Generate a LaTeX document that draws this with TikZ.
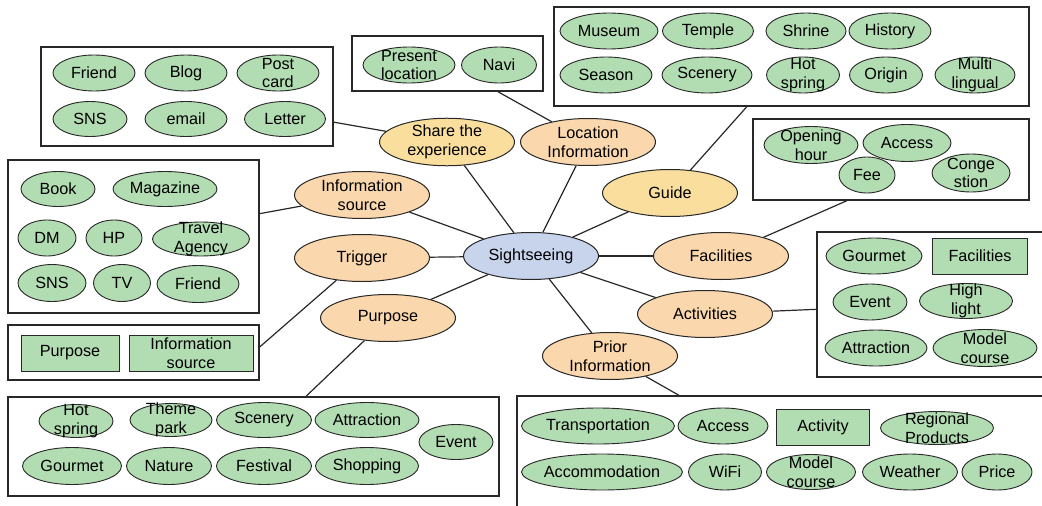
\documentclass[tikz,border=0pt]{standalone}
\usepackage{fontspec}
\setmainfont{Liberation Sans}
\usepackage{tikz}
\usetikzlibrary{
  shapes.geometric
}

\definecolor{leafgreen}{RGB}{178,220,178}
\definecolor{catorange}{RGB}{250,215,172}
\definecolor{catyellow}{RGB}{249,222,158}
\definecolor{hubblue}{RGB}{200,211,236}
\definecolor{edgegray}{RGB}{40,40,40}

\begin{document}
\begin{tikzpicture}[
  x=1pt,
  y=-1pt,
  font=\fontsize{16.2}{18.5}\selectfont,
  hub/.style={
    ellipse,
    draw=edgegray,
    line width=1pt,
    fill=hubblue,
    minimum width=135pt,
    minimum height=47pt,
    inner sep=0pt
  },
  cat/.style={
    ellipse,
    draw=edgegray,
    line width=1pt,
    fill=catorange,
    align=center,
    minimum width=135pt,
    minimum height=47pt,
    inner sep=0pt
  },
  catyel/.style={
    cat,
    fill=catyellow
  },
  group/.style={
    draw=edgegray,
    line width=1.3pt,
    fill=white,
    inner sep=0pt
  },
  leaf/.style 2 args={
    ellipse,
    draw=edgegray,
    line width=0.9pt,
    fill=leafgreen,
    minimum width=#1pt,
    minimum height=#2pt,
    inner sep=0pt
  },
  leafbox/.style 2 args={
    draw=edgegray,
    line width=0.9pt,
    fill=leafgreen,
    align=center,
    minimum width=#1pt,
    minimum height=#2pt,
    inner sep=0pt
  },
  every label/.style={
    align=center,
    inner sep=0pt
  },
  link/.style={
    draw=edgegray,
    line width=1.2pt
  }
]
\useasboundingbox (0,0) rectangle (1042,506);

% --- group frames ---
\node[group,minimum width=292pt,minimum height=99pt] (sharebox) at (187,96.5) {};
\node[group,minimum width=191pt,minimum height=55pt] (locbox) at (447.5,63.5) {};
\node[group,minimum width=475pt,minimum height=99pt] (guidebox) at (791.5,56.5) {};
\node[group,minimum width=276pt,minimum height=81pt] (facbox) at (891,159.5) {};
\node[group,minimum width=251pt,minimum height=153pt] (infobox) at (133.5,236.5) {};
\node[group,minimum width=251pt,minimum height=55pt] (trigbox) at (133.5,352.5) {};
\node[group,minimum width=491pt,minimum height=99pt] (purpbox) at (253.5,446.5) {};
\node[group,minimum width=229pt,minimum height=145pt] (actbox) at (931.5,304.5) {};
\node[group,minimum width=529pt,minimum height=116pt] (priorbox) at (781.5,454) {};

% --- share the experience ---
\node[leaf={82}{36},label=center:Friend] (shfriend) at (94,73) {};
\node[leaf={82}{36},label=center:Blog] (shblog) at (186,73) {};
\node[leaf={82}{36},label=center:{Post\\card}] (shpost) at (278,73) {};
\node[leaf={74}{35},label=center:SNS] (shsns) at (90,119) {};
\node[leaf={82}{35},label=center:email] (shmail) at (186,119) {};
\node[leaf={81}{35},label=center:Letter] (shletter) at (285,119) {};

% --- location information ---
\node[leaf={92}{36},label=center:{Present\\location}] (lcpresent) at (409,65) {};
\node[leaf={75}{36},label=center:Navi] (lcnavi) at (499,65) {};

% --- guide ---
\node[leaf={98}{36},label=center:Museum] (gdmuseum) at (609,31) {};
\node[leaf={91}{36},label=center:Temple] (gdtemple) at (708,31) {};
\node[leaf={80}{36},label=center:Shrine] (gdshrine) at (806,31) {};
\node[leaf={82}{36},label=center:History] (gdhistory) at (890,31) {};
\node[leaf={92}{36},label=center:Season] (gdseason) at (606,75) {};
\node[leaf={90}{36},label=center:Scenery] (gdscenery) at (707,75) {};
\node[leaf={73}{36},label=center:{Hot\\spring}] (gdhot) at (803,75) {};
\node[leaf={73}{36},label=center:Origin] (gdorigin) at (886,75) {};
\node[leaf={80}{36},label=center:{Multi\\lingual}] (gdmulti) at (975,75) {};

% --- facilities ---
\node[leaf={94}{37},label=center:{Opening\\hour}] (fcopen) at (811,145) {};
\node[leaf={88}{37},label=center:Access] (fcaccess) at (907,143) {};
\node[leaf={56}{36},label=center:Fee] (fcfee) at (867,175) {};
\node[leaf={78}{38},label=center:{Conge\\stion}] (fccong) at (971,173) {};

% --- information source ---
\node[leaf={74}{35},label=center:Book] (isbook) at (58,189) {};
\node[leaf={104}{35},label=center:Magazine] (ismag) at (165,189) {};
\node[leaf={58}{36},label=center:DM] (isdm) at (47,238) {};
\node[leaf={56}{36},label=center:HP] (ishp) at (114,238) {};
\node[leaf={97}{34},label=center:{Travel\\Agency}] (istravel) at (201,239) {};
\node[leaf={68}{37},label=center:SNS] (issns) at (52,283) {};
\node[leaf={57}{37},label=center:TV] (istv) at (122,283) {};
\node[leaf={82}{37},label=center:Friend] (isfriend) at (198,284) {};

% --- trigger ---
\node[leafbox={98}{36}] (trpurp) at (70,353) {Purpose};
\node[leafbox={124}{36}] (trinfo) at (191,353) {Information\\source};

% --- purpose ---
\node[leaf={74}{33},label=center:{Hot\\spring}] (pphot) at (76,421) {};
\node[leaf={82}{33},label=center:{Theme\\park}] (pptheme) at (171,420) {};
\node[leaf={95}{35},label=center:Scenery] (ppscenery) at (264,420) {};
\node[leaf={104}{35},label=center:Attraction] (ppattr) at (367,420) {};
\node[leaf={99}{37},label=center:Gourmet] (ppgourmet) at (72,466) {};
\node[leaf={85}{37},label=center:Nature] (ppnature) at (169,466) {};
\node[leaf={95}{37},label=center:Festival] (ppfest) at (264,466) {};
\node[leaf={103}{37},label=center:Shopping] (ppshop) at (367,466) {};
\node[leaf={74}{35},label=center:Event] (ppevent) at (456,442) {};

% --- activities ---
\node[leaf={96}{36},label=center:Gourmet] (acgourmet) at (874,256) {};
\node[leafbox={95}{36}] (acfac) at (980,256) {Facilities};
\node[leaf={74}{36},label=center:Event] (acevent) at (870,302) {};
\node[leaf={93}{35},label=center:{High\\light}] (achigh) at (966,301) {};
\node[leaf={102}{36},label=center:Attraction] (acattr) at (876,348) {};
\node[leaf={104}{37},label=center:{Model\\course}] (acmodel) at (985,348) {};

% --- prior information ---
\node[leaf={153}{36},label=center:Transportation] (prtrans) at (598,426) {};
\node[leaf={90}{36},label=center:Access] (praccess) at (723,426) {};
\node[leafbox={93}{36}] (practivity) at (823,427) {Activity};
\node[leaf={113}{33},label=center:{Regional\\Products}] (prregion) at (937,428) {};
\node[leaf={161}{36},label=center:Accommodation] (praccom) at (602,472) {};
\node[leaf={73}{36},label=center:WiFi] (prwifi) at (725,472) {};
\node[leaf={89}{35},label=center:{Model\\course}] (prmodel) at (811,472) {};
\node[leaf={95}{36},label=center:Weather] (prweather) at (910,472) {};
\node[leaf={70}{36},label=center:Price] (prprice) at (997,472) {};

% --- categories ---
\node[hub] (sight) at (531,256) {Sightseeing};
\node[catyel] (share) at (447,142) {Share the\\experience};
\node[cat] (locinfo) at (588,142) {Location\\Information};
\node[catyel] (guide) at (670,193) {Guide};
\node[cat] (infosrc) at (362,195) {Information\\source};
\node[cat] (trigger) at (362,258) {Trigger};
\node[cat] (purpose) at (388,318) {Purpose};
\node[cat] (facil) at (721,256) {Facilities};
\node[cat] (activ) at (705,314) {Activities};
\node[cat] (prior) at (610,356) {Prior\\Information};

% --- spokes ---
\foreach \c in {share,locinfo,guide,infosrc,trigger,purpose,facil,activ,prior}
  \draw[link] (sight) -- (\c);

% --- category to group frame ---
\draw[link] (share) -- (sharebox);
\draw[link] (locinfo) -- (locbox);
\draw[link] (guide) -- (guidebox);
\draw[link] (facil) -- ([xshift=-44pt]facbox.south);
\draw[link] (infosrc) -- (infobox);
\draw[link] (trigger) -- ([yshift=5.5pt]trigbox.east);
\draw[link] (purpose) -- (purpbox);
\draw[link] (activ) -- (actbox);
\draw[link] (prior) -- (priorbox);

\end{tikzpicture}
\end{document}
